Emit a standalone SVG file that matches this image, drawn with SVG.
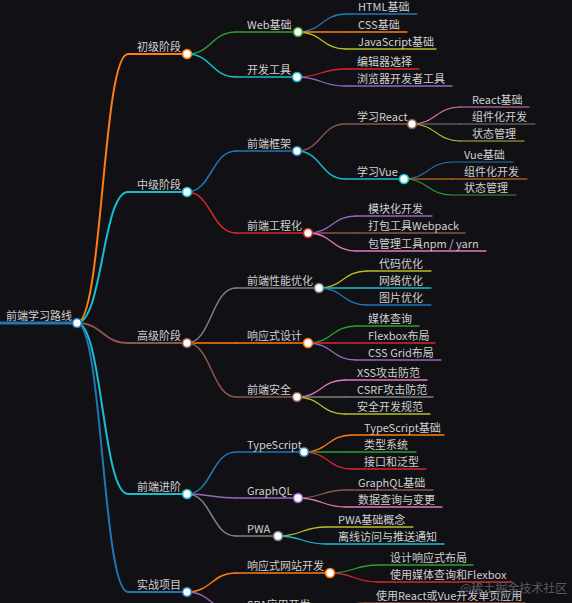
<svg xmlns="http://www.w3.org/2000/svg" width="572" height="603" viewBox="0 0 572 603">
<style>
text{font-family:"Noto Sans CJK SC","Noto Sans",sans-serif;font-size:11px;fill:#cfcfcf}
.wm{font-size:12px;fill:#5a5a5e}
path,line{fill:none;stroke-linecap:round}
circle{fill:#fbfbfb;stroke-width:1.6}
.d0{stroke-width:3}.d1{stroke-width:2}.d2{stroke-width:1.5}.d3{stroke-width:1.3}.d4{stroke-width:1.1}
.c0{stroke:#1f77b4}.c1{stroke:#ff7f0e}.c2{stroke:#2ca02c}.c3{stroke:#d62728}.c4{stroke:#9467bd}
.c5{stroke:#8c564b}.c6{stroke:#e377c2}.c7{stroke:#7f7f7f}.c8{stroke:#bcbd22}.c9{stroke:#17becf}
</style>
<rect width="572" height="603" fill="#111115"/>
<g id="connectors">
<path class="d1 c1" d="M77,323 C102.5,323 102.5,54 128,54"/>
<path class="d1 c9" d="M77,323 C102.5,323 102.5,192 128,192"/>
<path class="d1 c5" d="M77,323 C102.5,323 102.5,343 128,343"/>
<path class="d1 c9" d="M77,323 C102.5,323 102.5,494 128,494"/>
<path class="d1 c0" d="M77,323 C102.5,323 102.5,592 128,592"/>
<path class="d2 c2" d="M187,54 C211.5,54 211.5,32 236,32"/>
<path class="d2 c9" d="M187,54 C211.5,54 211.5,77 236,77"/>
<path class="d2 c0" d="M187,192 C211.5,192 211.5,151 236,151"/>
<path class="d2 c3" d="M187,192 C211.5,192 211.5,233 236,233"/>
<path class="d2 c7" d="M187,343 C211.5,343 211.5,288 236,288"/>
<path class="d2 c1" d="M187,343 C211.5,343 211.5,343 236,343"/>
<path class="d2 c5" d="M187,343 C211.5,343 211.5,397 236,397"/>
<path class="d2 c0" d="M187,494 C211.5,494 211.5,452 236,452"/>
<path class="d2 c4" d="M187,494 C211.5,494 211.5,498 236,498"/>
<path class="d2 c7" d="M187,494 C211.5,494 211.5,536 236,536"/>
<path class="d2 c1" d="M187,592 C211.5,592 211.5,573 236,573"/>
<path class="d2 c4" d="M187,592 C211.5,592 211.5,612 236,612"/>
<path class="d3 c0" d="M298,32 C322,32 322,14 346,14"/>
<path class="d3 c1" d="M298,32 C322,32 322,32 346,32"/>
<path class="d3 c8" d="M298,32 C322,32 322,49 346,49"/>
<path class="d3 c3" d="M297,77 C321,77 321,69 345,69"/>
<path class="d3 c4" d="M297,77 C321,77 321,86 345,86"/>
<path class="d3 c5" d="M297,151 C321,151 321,124 345,124"/>
<path class="d3 c9" d="M297,151 C321,151 321,179 345,179"/>
<path class="d4 c6" d="M412,124 C436,124 436,107 460,107"/>
<path class="d4 c7" d="M412,124 C436,124 436,124 460,124"/>
<path class="d4 c8" d="M412,124 C436,124 436,141 460,141"/>
<path class="d4 c0" d="M404,179 C428,179 428,162 452,162"/>
<path class="d4 c1" d="M404,179 C428,179 428,179 452,179"/>
<path class="d4 c2" d="M404,179 C428,179 428,195 452,195"/>
<path class="d3 c4" d="M308,233 C332,233 332,216 356,216"/>
<path class="d3 c5" d="M308,233 C332,233 332,233 356,233"/>
<path class="d3 c6" d="M308,233 C332,233 332,251 356,251"/>
<path class="d3 c8" d="M319,288 C343,288 343,271 367,271"/>
<path class="d3 c9" d="M319,288 C343,288 343,288 367,288"/>
<path class="d3 c0" d="M319,288 C343,288 343,305 367,305"/>
<path class="d3 c2" d="M308,343 C332,343 332,326 356,326"/>
<path class="d3 c3" d="M308,343 C332,343 332,343 356,343"/>
<path class="d3 c4" d="M308,343 C332,343 332,360 356,360"/>
<path class="d3 c6" d="M297,397 C321,397 321,380 345,380"/>
<path class="d3 c7" d="M297,397 C321,397 321,397 345,397"/>
<path class="d3 c8" d="M297,397 C321,397 321,414 345,414"/>
<path class="d3 c1" d="M304,452 C328,452 328,435 352,435"/>
<path class="d3 c2" d="M304,452 C328,452 328,452 352,452"/>
<path class="d3 c3" d="M304,452 C328,452 328,469 352,469"/>
<path class="d3 c5" d="M298,498 C322,498 322,490 346,490"/>
<path class="d3 c6" d="M298,498 C322,498 322,507 346,507"/>
<path class="d3 c8" d="M278,536 C302,536 302,527 326,527"/>
<path class="d3 c9" d="M278,536 C302,536 302,544 326,544"/>
<path class="d3 c2" d="M330,573 C354,573 354,565 378,565"/>
<path class="d3 c3" d="M330,573 C354,573 354,582 378,582"/>
<path class="d3 c5" d="M318,612 C341,612 341,603 365,603"/>
</g>
<g id="n-root"><line class="d0 c0" x1="0" y1="323" x2="77" y2="323"/><circle class="c0" cx="77" cy="323" r="4.5"/><text x="6" y="320">前端学习路线</text></g>
<g id="n-1"><line class="d1 c1" x1="128" y1="54" x2="187" y2="54"/><circle class="c1" cx="187" cy="54" r="4.5"/><text x="137" y="51">初级阶段</text></g>
<g id="n-1-1"><line class="d2 c2" x1="236" y1="32" x2="298" y2="32"/><circle class="c2" cx="298" cy="32" r="4.5"/><text x="247" y="29">Web基础</text></g>
<g id="n-1-1-1"><line class="d3 c0" x1="346" y1="14" x2="417" y2="14"/><text x="358" y="11">HTML基础</text></g>
<g id="n-1-1-2"><line class="d3 c1" x1="346" y1="32" x2="407" y2="32"/><text x="358" y="29">CSS基础</text></g>
<g id="n-1-1-3"><line class="d3 c8" x1="346" y1="49" x2="436" y2="49"/><text x="358" y="46">JavaScript基础</text></g>
<g id="n-1-2"><line class="d2 c9" x1="236" y1="77" x2="297" y2="77"/><circle class="c9" cx="297" cy="77" r="4.5"/><text x="247" y="74">开发工具</text></g>
<g id="n-1-2-1"><line class="d3 c3" x1="345" y1="69" x2="419" y2="69"/><text x="357" y="66">编辑器选择</text></g>
<g id="n-1-2-2"><line class="d3 c4" x1="345" y1="86" x2="452" y2="86"/><text x="357" y="83">浏览器开发者工具</text></g>
<g id="n-2"><line class="d1 c9" x1="128" y1="192" x2="187" y2="192"/><circle class="c9" cx="187" cy="192" r="4.5"/><text x="137" y="189">中级阶段</text></g>
<g id="n-2-1"><line class="d2 c0" x1="236" y1="151" x2="297" y2="151"/><circle class="c0" cx="297" cy="151" r="4.5"/><text x="247" y="148">前端框架</text></g>
<g id="n-2-1-1"><line class="d3 c5" x1="345" y1="124" x2="412" y2="124"/><circle class="c5" cx="412" cy="124" r="4.5"/><text x="357" y="121">学习React</text></g>
<g id="n-2-1-1-1"><line class="d4 c6" x1="460" y1="107" x2="529" y2="107"/><text x="472" y="104">React基础</text></g>
<g id="n-2-1-1-2"><line class="d4 c7" x1="460" y1="124" x2="535" y2="124"/><text x="472" y="121">组件化开发</text></g>
<g id="n-2-1-1-3"><line class="d4 c8" x1="460" y1="141" x2="524" y2="141"/><text x="472" y="138">状态管理</text></g>
<g id="n-2-1-2"><line class="d3 c9" x1="345" y1="179" x2="404" y2="179"/><circle class="c9" cx="404" cy="179" r="4.5"/><text x="357" y="176">学习Vue</text></g>
<g id="n-2-1-2-1"><line class="d4 c0" x1="452" y1="162" x2="513" y2="162"/><text x="464" y="159">Vue基础</text></g>
<g id="n-2-1-2-2"><line class="d4 c1" x1="452" y1="179" x2="527" y2="179"/><text x="464" y="176">组件化开发</text></g>
<g id="n-2-1-2-3"><line class="d4 c2" x1="452" y1="195" x2="516" y2="195"/><text x="464" y="192">状态管理</text></g>
<g id="n-2-2"><line class="d2 c3" x1="236" y1="233" x2="308" y2="233"/><circle class="c3" cx="308" cy="233" r="4.5"/><text x="247" y="230">前端工程化</text></g>
<g id="n-2-2-1"><line class="d3 c4" x1="356" y1="216" x2="432" y2="216"/><text x="368" y="213">模块化开发</text></g>
<g id="n-2-2-2"><line class="d3 c5" x1="356" y1="233" x2="465" y2="233"/><text x="368" y="230">打包工具Webpack</text></g>
<g id="n-2-2-3"><line class="d3 c6" x1="356" y1="251" x2="486" y2="251"/><text x="368" y="248">包管理工具npm / yarn</text></g>
<g id="n-3"><line class="d1 c5" x1="128" y1="343" x2="187" y2="343"/><circle class="c5" cx="187" cy="343" r="4.5"/><text x="137" y="340">高级阶段</text></g>
<g id="n-3-1"><line class="d2 c7" x1="236" y1="288" x2="319" y2="288"/><circle class="c7" cx="319" cy="288" r="4.5"/><text x="247" y="285">前端性能优化</text></g>
<g id="n-3-1-1"><line class="d3 c8" x1="367" y1="271" x2="431" y2="271"/><text x="379" y="268">代码优化</text></g>
<g id="n-3-1-2"><line class="d3 c9" x1="367" y1="288" x2="431" y2="288"/><text x="379" y="285">网络优化</text></g>
<g id="n-3-1-3"><line class="d3 c0" x1="367" y1="305" x2="431" y2="305"/><text x="379" y="302">图片优化</text></g>
<g id="n-3-2"><line class="d2 c1" x1="236" y1="343" x2="308" y2="343"/><circle class="c1" cx="308" cy="343" r="4.5"/><text x="247" y="340">响应式设计</text></g>
<g id="n-3-2-1"><line class="d3 c2" x1="356" y1="326" x2="419" y2="326"/><text x="368" y="323">媒体查询</text></g>
<g id="n-3-2-2"><line class="d3 c3" x1="356" y1="343" x2="435" y2="343"/><text x="368" y="340">Flexbox布局</text></g>
<g id="n-3-2-3"><line class="d3 c4" x1="356" y1="360" x2="441" y2="360"/><text x="368" y="357">CSS Grid布局</text></g>
<g id="n-3-3"><line class="d2 c5" x1="236" y1="397" x2="297" y2="397"/><circle class="c5" cx="297" cy="397" r="4.5"/><text x="247" y="394">前端安全</text></g>
<g id="n-3-3-1"><line class="d3 c6" x1="345" y1="380" x2="427" y2="380"/><text x="357" y="377">XSS攻击防范</text></g>
<g id="n-3-3-2"><line class="d3 c7" x1="345" y1="397" x2="433" y2="397"/><text x="357" y="394">CSRF攻击防范</text></g>
<g id="n-3-3-3"><line class="d3 c8" x1="345" y1="414" x2="430" y2="414"/><text x="357" y="411">安全开发规范</text></g>
<g id="n-4"><line class="d1 c9" x1="128" y1="494" x2="187" y2="494"/><circle class="c9" cx="187" cy="494" r="4.5"/><text x="137" y="491">前端进阶</text></g>
<g id="n-4-1"><line class="d2 c0" x1="236" y1="452" x2="304" y2="452"/><circle class="c0" cx="304" cy="452" r="4.5"/><text x="247" y="449">TypeScript</text></g>
<g id="n-4-1-1"><line class="d3 c1" x1="352" y1="435" x2="444" y2="435"/><text x="364" y="432">TypeScript基础</text></g>
<g id="n-4-1-2"><line class="d3 c2" x1="352" y1="452" x2="416" y2="452"/><text x="364" y="449">类型系统</text></g>
<g id="n-4-1-3"><line class="d3 c3" x1="352" y1="469" x2="426" y2="469"/><text x="364" y="466">接口和泛型</text></g>
<g id="n-4-2"><line class="d2 c4" x1="236" y1="498" x2="298" y2="498"/><circle class="c4" cx="298" cy="498" r="4.5"/><text x="247" y="495">GraphQL</text></g>
<g id="n-4-2-1"><line class="d3 c5" x1="346" y1="490" x2="433" y2="490"/><text x="358" y="487">GraphQL基础</text></g>
<g id="n-4-2-2"><line class="d3 c6" x1="346" y1="507" x2="442" y2="507"/><text x="358" y="504">数据查询与变更</text></g>
<g id="n-4-3"><line class="d2 c7" x1="236" y1="536" x2="278" y2="536"/><circle class="c7" cx="278" cy="536" r="4.5"/><text x="247" y="533">PWA</text></g>
<g id="n-4-3-1"><line class="d3 c8" x1="326" y1="527" x2="413" y2="527"/><text x="338" y="524">PWA基础概念</text></g>
<g id="n-4-3-2"><line class="d3 c9" x1="326" y1="544" x2="444" y2="544"/><text x="338" y="541">离线访问与推送通知</text></g>
<g id="n-5"><line class="d1 c0" x1="128" y1="592" x2="187" y2="592"/><circle class="c0" cx="187" cy="592" r="4.5"/><text x="137" y="589">实战项目</text></g>
<g id="n-5-1"><line class="d2 c1" x1="236" y1="573" x2="330" y2="573"/><circle class="c1" cx="330" cy="573" r="4.5"/><text x="247" y="570">响应式网站开发</text></g>
<g id="n-5-1-1"><line class="d3 c2" x1="378" y1="565" x2="473" y2="565"/><text x="390" y="562">设计响应式布局</text></g>
<g id="n-5-1-2"><line class="d3 c3" x1="378" y1="582" x2="512" y2="582"/><text x="390" y="579">使用媒体查询和Flexbox</text></g>
<g id="n-5-2"><line class="d2 c4" x1="236" y1="612" x2="318" y2="612"/><circle class="c4" cx="318" cy="612" r="4.5"/><text x="247" y="609">SPA应用开发</text></g>
<g id="n-5-2-1"><line class="d3 c5" x1="365" y1="603" x2="525" y2="603"/><text x="376" y="600">使用React或Vue开发单页应用</text></g>
<text class="wm" x="460" y="593">@稀土掘金技术社区</text>
</svg>
